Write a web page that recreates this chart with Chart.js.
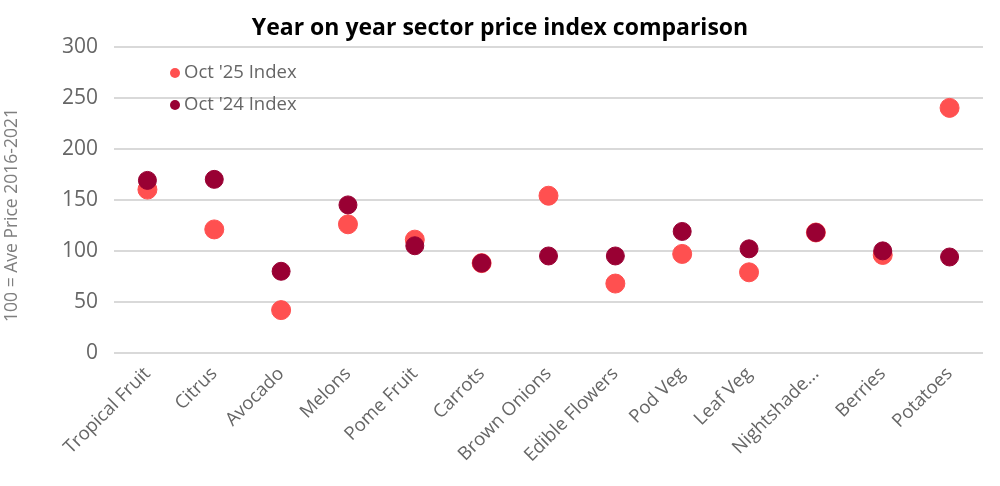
<!DOCTYPE html>
<html>
<head>
<meta charset="utf-8">
<script src="https://cdn.jsdelivr.net/npm/chart.js@4.4.1/dist/chart.umd.min.js"></script>
<style>
  html, body { margin: 0; padding: 0; background: #fff; }
  #wrap { width: 1000px; height: 486px; }
</style>
</head>
<body>
<div id="wrap"><canvas id="priceChart"></canvas></div>
<script>
const categories = ["Tropical Fruit", "Citrus", "Avocado", "Melons", "Pome Fruit", "Carrots",
    "Brown Onions", "Edible Flowers", "Pod Veg", "Leaf Veg", "Nightshade...", "Berries", "Potatoes"];
const oct25 = [160, 121, 42, 126, 111, 88, 154, 68, 97, 79, 118, 96, 240];
const oct24 = [169, 170, 80, 145, 105, 88, 95, 95, 119, 102, 118, 100, 94];
const yTicks = [0, 50, 100, 150, 200, 250, 300];
const yTitle = "100 = Ave Price 2016-2021";

const fontFamily = "'Open Sans', Lato, sans-serif";
const grey = "#666666";

// legend inside the plot (top left) and the y axis title, drawn on the canvas
const extras = {
    id: "extras",
    afterDraw(chart) {
        const ctx = chart.ctx;
        const items = chart.data.datasets.slice().sort((a, b) => a.legendIndex - b.legendIndex);
        ctx.save();
        ctx.font = "18.5px " + fontFamily;
        ctx.textBaseline = "middle";
        items.forEach((ds, i) => {
            const y = 73 + i * 32;
            ctx.fillStyle = ds.backgroundColor;
            ctx.beginPath();
            ctx.arc(175, y, 5, 0, Math.PI * 2);
            ctx.fill();
            ctx.fillStyle = grey;
            ctx.fillText(ds.label, 184, y);
        });

        ctx.translate(12, 215);
        ctx.rotate(-Math.PI / 2);
        ctx.textAlign = "center";
        ctx.font = "17.5px " + fontFamily;
        ctx.fillStyle = "#7f7f7f";
        ctx.fillText(yTitle, 0, 0);
        ctx.restore();
    }
};

const ctx = document.getElementById("priceChart").getContext("2d");
new Chart(ctx, {
    type: "line",
    data: {
        labels: categories,
        datasets: [
            {
                label: "Oct '25 Index",
                data: oct25,
                backgroundColor: "#ff5050",
                borderColor: "#ff5050",
                showLine: false,
                pointRadius: 9.5,
                pointHoverRadius: 9.5,
                order: 1,
                legendIndex: 0
            },
            {
                label: "Oct '24 Index",
                data: oct24,
                backgroundColor: "#990033",
                borderColor: "#990033",
                showLine: false,
                pointRadius: 9,
                pointHoverRadius: 9,
                order: 0,
                legendIndex: 1
            }
        ]
    },
    options: {
        responsive: true,
        maintainAspectRatio: false,
        animation: false,
        layout: { padding: { left: 17, right: 17 } },
        plugins: {
            legend: { display: false },
            tooltip: { enabled: false },
            title: {
                display: true,
                text: "Year on year sector price index comparison",
                color: "#000",
                font: { family: fontFamily, size: 23, weight: "bold" },
                padding: { top: 15, bottom: 4 }
            }
        },
        scales: {
            x: {
                offset: true,
                grid: { display: false },
                border: { display: false },
                ticks: {
                    color: grey,
                    font: { family: fontFamily, size: 18.5 },
                    maxRotation: 45,
                    minRotation: 45,
                    padding: 2
                },
                afterFit(s) { s.height = 133; }
            },
            y: {
                min: 0,
                max: 300,
                afterBuildTicks(s) { s.ticks = yTicks.map(v => ({ value: v })); },
                grid: { color: "#d9d9d9", lineWidth: 2, drawTicks: false },
                border: { display: false },
                ticks: {
                    color: grey,
                    font: { family: fontFamily, size: 21 },
                    padding: 16
                },
                afterFit(s) { s.width = 97; }
            }
        }
    },
    plugins: [extras]
});
</script>
</body>
</html>
